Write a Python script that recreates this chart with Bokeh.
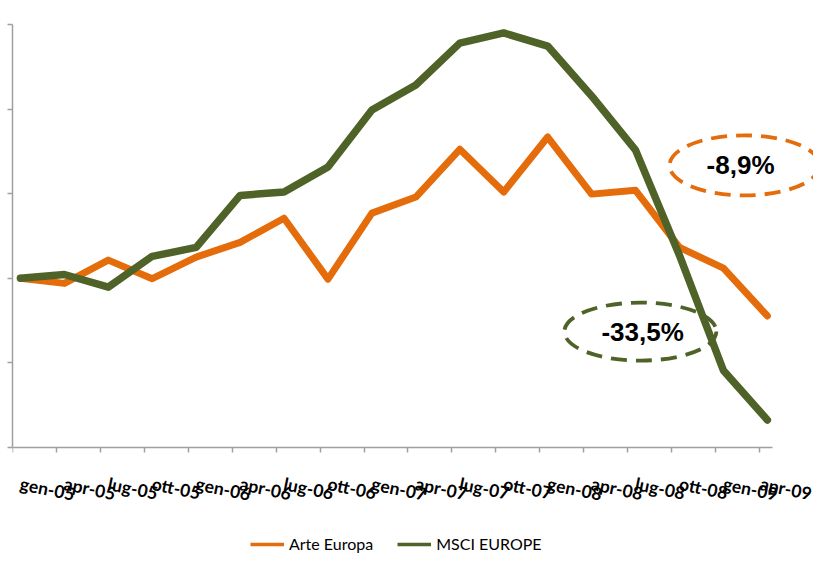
from bokeh.plotting import figure
from bokeh.models import Range1d, FixedTicker, Label, Legend, LegendItem
from bokeh.embed import file_html
from bokeh.resources import INLINE

# ---- data ----
quarters = ["gen-05", "apr-05", "lug-05", "ott-05",
            "gen-06", "apr-06", "lug-06", "ott-06",
            "gen-07", "apr-07", "lug-07", "ott-07",
            "gen-08", "apr-08", "lug-08", "ott-08",
            "gen-09", "apr-09"]
arte_europa = [100.0, 98.8, 104.3, 99.9, 105.0, 108.5, 114.2, 99.8, 115.4,
               119.2, 130.5, 120.4, 133.4, 119.9, 120.8, 107.3, 102.4, 91.1]
msci_europe = [100.0, 100.9, 97.9, 105.2, 107.3, 119.6, 120.4, 126.3, 139.8,
               145.7, 155.6, 158.0, 154.9, 143.1, 130.3, 105.4, 78.2, 66.5]
y_ticks = [60, 80, 100, 120, 140, 160]

# ---- styles ----
ORANGE = "#E46C0A"
GREEN = "#4F6228"
AXIS = "#A0A0A0"
TICK_SHIFT = 0.18   # tick marks sit slightly left of the data points
Y_FLOOR = 34.94     # frame continues below the axis to hold labels + legend

x = list(range(len(quarters)))

p = figure(width=813, height=553, output_backend="svg", toolbar_location=None,
           x_range=Range1d(-TICK_SHIFT, 18.05),
           y_range=Range1d(Y_FLOOR, y_ticks[-1]),
           min_border_left=12, min_border_right=0, min_border_top=24,
           min_border_bottom=0)
p.outline_line_color = None
p.grid.visible = False
p.background_fill_color = "white"
p.border_fill_color = "white"

xa = p.xaxis[0]
xa.fixed_location = y_ticks[0]
xa.ticker = FixedTicker(ticks=x, minor_ticks=[i - TICK_SHIFT for i in x])
xa.bounds = (-TICK_SHIFT, 17.11)
xa.major_label_overrides = {i: q for i, q in enumerate(quarters)}
xa.major_tick_out = 0
xa.major_tick_in = 0
xa.minor_tick_out = 5
xa.minor_tick_in = 0
xa.minor_tick_line_color = AXIS
xa.minor_tick_line_width = 1.5
xa.axis_line_color = AXIS
xa.axis_line_width = 1.5
xa.major_label_orientation = -0.2
xa.major_label_text_font = "Lato"
xa.major_label_text_font_style = "bold"
xa.major_label_text_font_size = "17.5px"
xa.major_label_text_color = "black"
xa.major_label_standoff = 31

ya = p.yaxis[0]
ya.ticker = FixedTicker(ticks=y_ticks, minor_ticks=[])
ya.bounds = (y_ticks[0], y_ticks[-1])
ya.major_label_overrides = {t: "" for t in y_ticks}
ya.major_tick_out = 5
ya.major_tick_in = 0
ya.minor_tick_out = 0
ya.minor_tick_in = 0
ya.major_tick_line_color = AXIS
ya.major_tick_line_width = 1.5
ya.axis_line_color = AXIS
ya.axis_line_width = 1.5
ya.major_label_standoff = 0

# ---- annotation ellipses (behind the lines) ----
def pct(series):
    return f"{(series[-1] / series[0] - 1) * 100:.1f}%".replace(".", ",")

notes = [
    (16.48, 126.7, 150, 60, ORANGE, pct(arte_europa), -0.09),
    (14.11, 87.4, 152, 58, GREEN, pct(msci_europe), 0.05),
]
for cx, cy, w, h, col, txt, dx in notes:
    p.ellipse(x=[cx], y=[cy], width=[w], height=[h], width_units="screen",
              height_units="screen", fill_alpha=0, line_color=col,
              line_width=3.8, line_dash="16 9")
    p.add_layout(Label(x=cx + dx, y=cy, text=txt, text_align="center",
                       text_baseline="middle", text_font="Liberation Sans",
                       text_font_style="bold", text_font_size="26px",
                       text_color="black"))

# ---- series ----
p.line(x, arte_europa, line_color=ORANGE, line_width=7, line_join="round",
       line_cap="round")
p.line(x, msci_europe, line_color=GREEN, line_width=7.5, line_join="round",
       line_cap="round")

# ---- legend: hidden thin copies of the series supply the sample lines ----
leg_o = p.line(x, arte_europa, line_color=ORANGE, line_width=3.5, visible=False)
leg_g = p.line(x, msci_europe, line_color=GREEN, line_width=3.5, visible=False)
legend = Legend(items=[LegendItem(label="Arte Europa", renderers=[leg_o]),
                       LegendItem(label="MSCI EUROPE", renderers=[leg_g])],
                location=(238, 0), orientation="horizontal",
                glyph_width=34, glyph_height=16, label_height=16,
                label_standoff=5, spacing=24, padding=0, margin=0,
                border_line_color=None, background_fill_alpha=0,
                inactive_fill_alpha=0,
                label_text_font="Lato", label_text_font_size="16px",
                label_text_color="black")
p.add_layout(legend)

open("out.html", "w").write(file_html(p, INLINE))
